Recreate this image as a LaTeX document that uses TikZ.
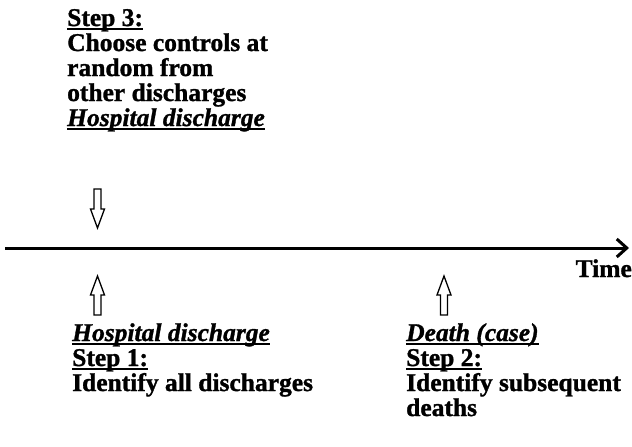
\documentclass[tikz,border=0pt]{standalone}
\usepackage{fontspec}
\setmainfont{Liberation Serif}[BoldFeatures={FakeBold=1.2},BoldItalicFeatures={FakeBold=1.2}]
\usetikzlibrary{arrows.meta}
\newcommand\myul[1]{\setbox0=\hbox{#1}\leavevmode\rlap{\vrule height -2.2pt depth 4.4pt width \wd0}\box0}
\tikzset{
  txt/.style={inner sep=0pt, anchor=base west, align=left,
    font=\fontsize{25.5}{25}\selectfont\bfseries},
  arrowline/.style={line width=1.3pt, line join=miter},
  axisline/.style={line width=3pt, -{Straight Barb[length=10pt,width=18pt,line width=3pt]}},
  blockarrow/.pic={\draw[arrowline] (0,0) -- (7,19) -- (3.5,19) -- (3.5,39) -- (-3.5,39) -- (-3.5,19) -- (-7,19) -- cycle;}
}
\begin{document}
\begin{tikzpicture}[x=1pt,y=-1pt]
\useasboundingbox (0,0) rectangle (632,447);
% top block (base anchor = last line baseline)
\node[txt] (step3) at (67,126) {\myul{Step 3:}\\Choose controls at\\random from\\other discharges\\\myul{\itshape Hospital discharge}};
% arrows
\pic[rotate=180] (down) at (97.5,228) {blockarrow};
\pic (upA) at (97.5,276) {blockarrow};
\pic (upB) at (444,276) {blockarrow};
% axis
\coordinate (axL) at (5,248);
\coordinate (axR) at (629,248);
\draw[axisline] (axL) -- (axR);
\node[txt, anchor=base east] (time) at (632,277) {Time};
% bottom blocks
\node[txt] (step1) at (72,391) {\myul{\itshape Hospital discharge}\\\myul{Step 1:}\\Identify all discharges};
\node[txt] (step2) at (406,416) {\myul{\itshape Death (case)}\\\myul{Step 2:}\\Identify subsequent\\deaths};
\end{tikzpicture}
\end{document}
